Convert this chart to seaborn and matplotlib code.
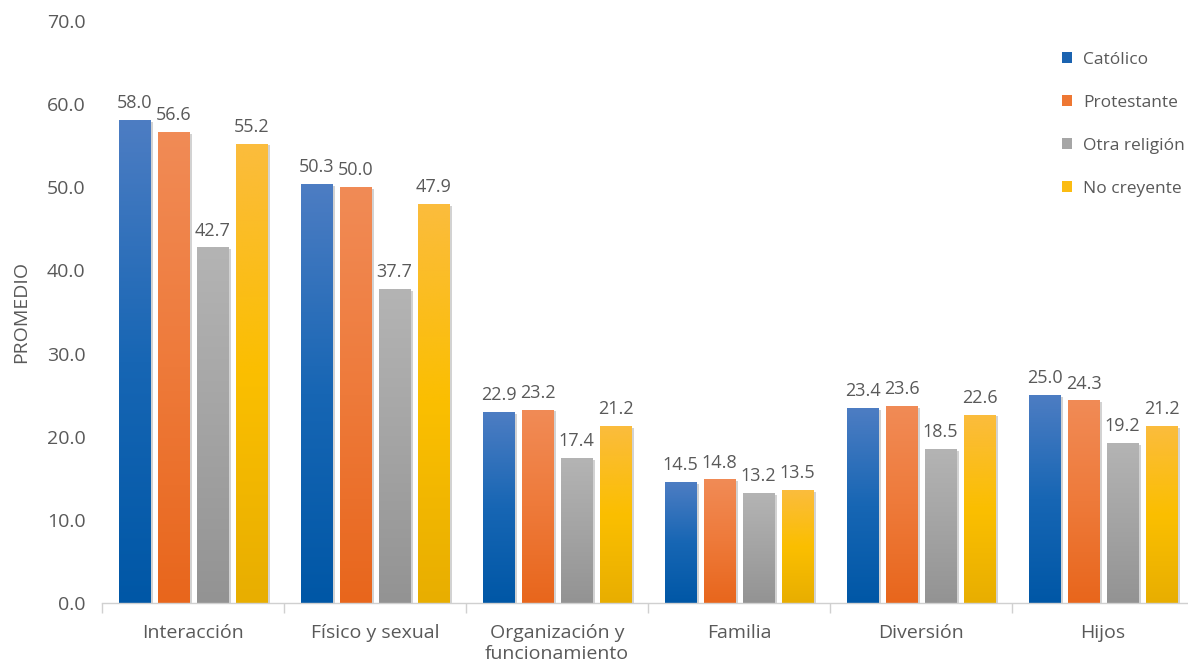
import numpy as np
import pandas as pd
import matplotlib
matplotlib.use("Agg")
import matplotlib.pyplot as plt
import seaborn as sns
from matplotlib.colors import LinearSegmentedColormap
from matplotlib.patches import Patch
import matplotlib.patheffects as pe

# data
categories = ["Interacción", "Físico y sexual", "Organización y\nfuncionamiento",
              "Familia", "Diversión", "Hijos"]
series = ["Católico", "Protestante", "Otra religión", "No creyente"]
catolico = [58.0, 50.3, 22.9, 14.5, 23.4, 25.0]
protestante = [56.6, 50.0, 23.2, 14.8, 23.6, 24.3]
otra = [42.7, 37.7, 17.4, 13.2, 18.5, 19.2]
no_creyente = [55.2, 47.9, 21.2, 13.5, 22.6, 21.2]

# (bottom, middle, top) gradient stops per series
grad = {
    "Católico": ("#0057a6", "#1766b4", "#4d7dc3"),
    "Protestante": ("#e8661c", "#ee7a3a", "#f18b56"),
    "Otra religión": ("#939393", "#a4a4a4", "#b4b4b4"),
    "No creyente": ("#e8ae00", "#fbbf00", "#fbbc3d"),
}
legend_colors = ["#1b63b0", "#ee7733", "#a6a6a6", "#fbbc12"]

df = pd.DataFrame({
    "cat": categories * 4,
    "grupo": np.repeat(series, len(categories)),
    "valor": catolico + protestante + otra + no_creyente,
})

sns.set_theme(style="white")
plt.rcParams["font.family"] = ["Open Sans", "DejaVu Sans"]
txt = "#595959"

fig = plt.figure(figsize=(11.88, 6.69), dpi=100)
ax = fig.add_axes([102 / 1188, 66 / 669, 1092 / 1188, 582 / 669])

sns.barplot(data=df, x="cat", y="valor", hue="grupo", hue_order=series,
            palette=legend_colors, width=0.857, gap=0.18, legend=False,
            errorbar=None, ax=ax, saturation=1)

# gradient fills + soft shadow
for s, cont in zip(series, ax.containers):
    cmap = LinearSegmentedColormap.from_list(s, grad[s])
    img = np.linspace(0, 1, 256).reshape(-1, 1)
    for bar in cont:
        bar.set_path_effects([pe.SimplePatchShadow(offset=(2, -1), shadow_rgbFace="#7f7f7f", alpha=0.35),
                              pe.Normal()])
        bar.set_linewidth(0)
        x, w, h = bar.get_x(), bar.get_width(), bar.get_height()
        ax.imshow(img, extent=(x, x + w, 0, h), origin="lower", cmap=cmap,
                  aspect="auto", zorder=bar.get_zorder() + 0.1, interpolation="bilinear")
    ax.bar_label(cont, fmt="%.1f", padding=6, fontsize=13, color=txt)

ax.set_xlim(-0.5, 5.5)
ax.set_ylim(0, 70)
ax.set_yticks(np.arange(0, 71, 10))
ax.set_yticklabels([f"{v:.1f}" for v in range(0, 71, 10)], fontsize=14, color=txt)
ax.tick_params(axis="y", length=0, pad=12)

ax.set_xticks(range(len(categories)))
ax.set_xticklabels(categories, fontsize=14, color=txt, linespacing=1.2)
ax.tick_params(axis="x", which="major", length=0, pad=15)
ax.set_xticks(np.arange(-0.5, 6, 1), minor=True)
ax.tick_params(axis="x", which="minor", length=7, color="#d0d0d0", width=1, bottom=True)

ax.set_xlabel("")
ax.set_ylabel("PROMEDIO", fontsize=14, color=txt, labelpad=12,
              family=["Liberation Sans Narrow", "Open Sans", "DejaVu Sans"])

for sp in ["top", "right", "left"]:
    ax.spines[sp].set_visible(False)
ax.spines["bottom"].set_color("#d0d0d0")
ax.spines["bottom"].set_linewidth(1)

handles = [Patch(facecolor=c, edgecolor="none") for c in legend_colors]
fig.legend(handles, series, loc="upper left", bbox_to_anchor=(1055 / 1188, 1 - 45 / 669),
           frameon=False, fontsize=12.5, labelcolor=txt, handlelength=0.6,
           handleheight=0.6, handletextpad=0.6, labelspacing=1.55, borderaxespad=0)

fig.savefig("out.png", dpi=100)
